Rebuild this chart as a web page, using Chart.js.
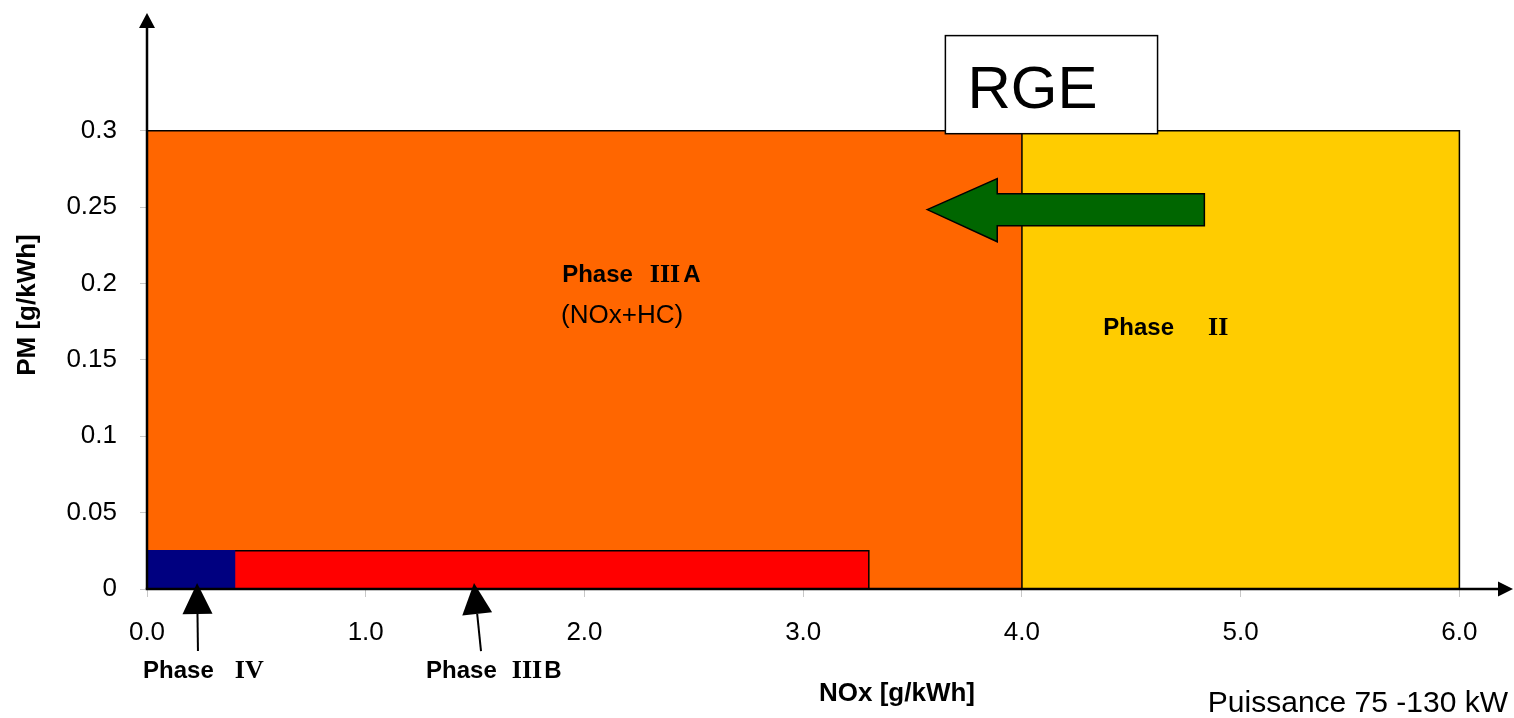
<!DOCTYPE html>
<html><head><meta charset="utf-8">
<script src="https://cdn.jsdelivr.net/npm/chart.js@4"></script>
<style>html,body{margin:0;padding:0;background:#fff;overflow:hidden}</style>
</head><body>
<canvas id="c" width="1514" height="718" style="width:1514px;height:718px;display:block"></canvas>
<script>
// ---- data ----
const phases = ['Phase II', 'Phase IIIA', 'Phase IIIB', 'Phase IV'];
const noxLimit = [6.0, 4.0, 3.3, 0.4];        // g/kWh
const pmLimit = [0.3, 0.3, 0.025, 0.025];     // g/kWh
const fillColors = ['#FFCC00', '#FF6600', '#FF0000', '#000080'];
const edgeColors = ['#000000', '#000000', '#000000', '#000080'];
const xTicks = [0, 1, 2, 3, 4, 5, 6];
const xTickLabels = ['0.0', '1.0', '2.0', '3.0', '4.0', '5.0', '6.0'];
const yTicks = [0, 0.05, 0.1, 0.15, 0.2, 0.25, 0.3];
const yTickLabels = ['0', '0.05', '0.1', '0.15', '0.2', '0.25', '0.3'];

// annotations (data units)
const rgeBox = {x0: 3.65, x1: 4.62, y0: 0.298, y1: 0.3622, text: 'RGE'};
const greenArrow = [[3.567,0.2483],[3.887,0.2686],[3.887,0.2587],[4.834,0.2587],[4.834,0.2378],[3.887,0.2378],[3.887,0.2273]];
const phaseLabels = [
  {x: 1.898, y: 0.2011, parts: [['Phase','s',0],['III','r',17],['A','s',3]]},
  {x: 1.893, y: 0.1742, parts: [['(NOx+HC)','n',0]]},
  {x: 4.372, y: 0.1664, parts: [['Phase','s',0],['II','r',34]]},
  {x: -0.018, y: -0.0583, parts: [['Phase','s',0],['IV','r',21]]},
  {x: 1.276, y: -0.0583, parts: [['Phase','s',0],['III','r',15],['B','s',2]]}
];
const pointers = [
  {tip: [0.229, 0.0039], tail: [0.233, -0.0406]},
  {tip: [1.495, 0.0039], tail: [1.527, -0.0406]}
];

const FONT = '"Liberation Sans", Arial, sans-serif';
const SERIF = '"Liberation Serif", "Times New Roman", serif';
const fonts = {
  s: 'bold 24px ' + FONT,
  r: 'bold 26px ' + SERIF,
  n: '26px ' + FONT
};

const datasets = phases.map((name, i) => ({
  label: name,
  data: [{x:0,y:0},{x:0,y:pmLimit[i]},{x:noxLimit[i],y:pmLimit[i]},{x:noxLimit[i],y:0}],
  backgroundColor: fillColors[i],
  borderColor: edgeColors[i],
  borderWidth: 1.5,
  fill: 'origin',
  pointRadius: 0,
  tension: 0,
  showLine: true,
  clip: false,
  order: phases.length - 1 - i
}));

const annotPlugin = {
  id: 'annot',
  afterDraw(chart) {
    const ctx = chart.ctx, xs = chart.scales.x, ys = chart.scales.y;
    const X = v => xs.getPixelForValue(v), Y = v => ys.getPixelForValue(v);
    const ca = chart.chartArea;
    ctx.save();
    // axes with arrowheads
    const ox = X(0), oy = Y(0);
    ctx.strokeStyle = '#000'; ctx.lineWidth = 2.5; ctx.fillStyle = '#000';
    ctx.beginPath(); ctx.moveTo(ox, oy); ctx.lineTo(ox, ca.top + 12); ctx.stroke();
    ctx.beginPath(); ctx.moveTo(ox - 1.25, oy); ctx.lineTo(ca.right - 12, oy); ctx.stroke();
    ctx.beginPath(); ctx.moveTo(ox, ca.top); ctx.lineTo(ox - 8, ca.top + 15); ctx.lineTo(ox + 8, ca.top + 15); ctx.closePath(); ctx.fill();
    ctx.beginPath(); ctx.moveTo(ca.right, oy); ctx.lineTo(ca.right - 15, oy - 7.5); ctx.lineTo(ca.right - 15, oy + 7.5); ctx.closePath(); ctx.fill();

    // green arrow
    ctx.beginPath();
    greenArrow.forEach((p, k) => k ? ctx.lineTo(X(p[0]), Y(p[1])) : ctx.moveTo(X(p[0]), Y(p[1])));
    ctx.closePath();
    ctx.fillStyle = '#006600'; ctx.fill();
    ctx.lineWidth = 1.5; ctx.strokeStyle = '#000'; ctx.stroke();

    // RGE box
    const bx = X(rgeBox.x0), by = Y(rgeBox.y1), bw = X(rgeBox.x1) - bx, bh = Y(rgeBox.y0) - by;
    ctx.fillStyle = '#fff'; ctx.fillRect(bx, by, bw, bh);
    ctx.lineWidth = 1.5; ctx.strokeStyle = '#000'; ctx.strokeRect(bx, by, bw, bh);
    ctx.fillStyle = '#000'; ctx.font = '60px ' + FONT; ctx.textBaseline = 'alphabetic'; ctx.textAlign = 'left';
    ctx.fillText(rgeBox.text, bx + 22, by + 72);

    // phase labels
    phaseLabels.forEach(l => {
      let px = X(l.x); const py = Y(l.y);
      l.parts.forEach(([t, f, gap]) => {
        px += gap;
        ctx.font = fonts[f];
        ctx.fillText(t, px, py);
        px += ctx.measureText(t).width;
      });
    });

    // pointer arrows
    pointers.forEach(p => {
      const tx = X(p.tip[0]), ty = Y(p.tip[1]), sx = X(p.tail[0]), sy = Y(p.tail[1]);
      const dx = tx - sx, dy = ty - sy, len = Math.hypot(dx, dy), ux = dx / len, uy = dy / len;
      const hl = 31, hw = 15;
      const bxp = tx - ux * hl, byp = ty - uy * hl;
      ctx.lineWidth = 2; ctx.strokeStyle = '#000';
      ctx.beginPath(); ctx.moveTo(sx, sy); ctx.lineTo(bxp, byp); ctx.stroke();
      ctx.beginPath(); ctx.moveTo(tx, ty);
      ctx.lineTo(bxp - uy * hw, byp + ux * hw); ctx.lineTo(bxp + uy * hw, byp - ux * hw);
      ctx.closePath(); ctx.fill();
    });

    // axis titles
    ctx.font = 'bold 26px ' + FONT;
    ctx.textAlign = 'center'; ctx.textBaseline = 'middle';
    ctx.save(); ctx.translate(28, 305); ctx.rotate(-Math.PI / 2); ctx.fillText('PM [g/kWh]', 0, 0); ctx.restore();
    ctx.textBaseline = 'alphabetic';
    ctx.fillText('NOx [g/kWh]', 897, 701);
    ctx.font = '30px ' + FONT; ctx.textAlign = 'right';
    ctx.fillText('Puissance 75 -130 kW', 1508, 712);
    ctx.restore();
  }
};

new Chart(document.getElementById('c'), {
  type: 'scatter',
  data: {datasets},
  options: {
    responsive: false,
    animation: false,
    devicePixelRatio: 1,
    events: [],
    layout: {padding: {top: 13, right: 1, left: 0, bottom: 0}},
    plugins: {legend: {display: false}, tooltip: {enabled: false}},
    scales: {
      x: {
        type: 'linear', min: 0, max: 6.245,
        afterFit: s => { s.height = 129; s.paddingLeft = 0; s.paddingRight = 0; },
        afterBuildTicks: s => { s.ticks = xTicks.map(v => ({value: v})); },
        border: {display: false},
        grid: {display: true, drawOnChartArea: false, drawTicks: true, tickLength: 8, color: '#c8c8c8', lineWidth: 1},
        ticks: {
          padding: 20, color: '#000', font: {family: FONT, size: 26},
          maxRotation: 0, autoSkip: false,
          callback: v => { const k = xTicks.indexOf(v); return k >= 0 ? xTickLabels[k] : ''; }
        }
      },
      y: {
        type: 'linear', min: 0, max: 0.377,
        afterFit: s => { s.width = 147; s.paddingTop = 0; s.paddingBottom = 0; },
        afterBuildTicks: s => { s.ticks = yTicks.map(v => ({value: v})); },
        border: {display: false},
        grid: {display: true, drawOnChartArea: false, drawTicks: true, tickLength: 7, color: '#c8c8c8', lineWidth: 1},
        ticks: {
          padding: 23, color: '#000', font: {family: FONT, size: 26}, autoSkip: false,
          callback: v => { const k = yTicks.findIndex(t => Math.abs(t - v) < 1e-9); return k >= 0 ? yTickLabels[k] : ''; }
        }
      }
    }
  },
  plugins: [annotPlugin]
});
</script>
</body></html>
